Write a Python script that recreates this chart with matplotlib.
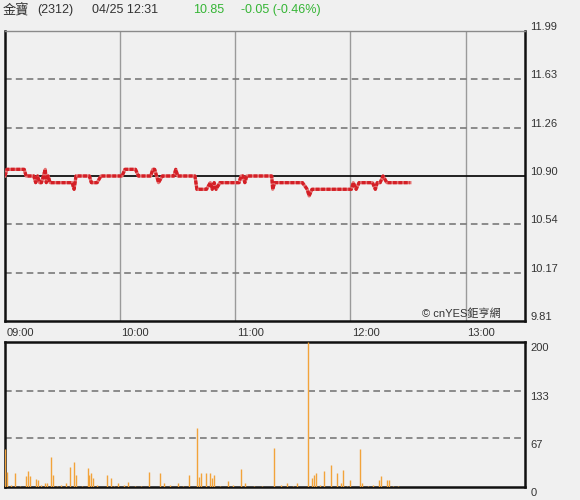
import matplotlib.pyplot as plt

# minutes after 09:00 and price at each vertex of the intraday line
price_min = [0, 1, 10, 11, 15, 16, 17, 18, 19, 20, 21, 21.5, 22.5, 23.5, 35, 36, 37,
             44, 45, 48, 50, 61, 62.5, 68, 69.5, 76, 77, 78, 80, 82, 88, 89, 90,
             99, 100, 105, 107, 108, 109, 110, 112, 122, 123, 124, 125, 126,
             139, 139.5, 140.5, 155, 157.5, 158.5, 160, 180.5, 181.5, 183, 184.5,
             191.5, 193, 194, 195.5, 197, 199, 211]
price_val = [10.90, 10.95, 10.95, 10.90, 10.90, 10.85, 10.90, 10.85, 10.85, 10.90, 10.95,
             10.85, 10.90, 10.85, 10.85, 10.80, 10.90,
             10.90, 10.85, 10.85, 10.90, 10.90, 10.95, 10.95, 10.90, 10.90, 10.95, 10.95,
             10.85, 10.90, 10.90, 10.95, 10.90,
             10.90, 10.80, 10.80, 10.85, 10.80, 10.85, 10.80, 10.85, 10.85, 10.90, 10.90,
             10.85, 10.90,
             10.90, 10.80, 10.85, 10.85, 10.80, 10.75, 10.80, 10.80, 10.85, 10.80, 10.85,
             10.85, 10.80, 10.85, 10.85, 10.90, 10.85, 10.85]

# volume bars (minute, lots)
vol_min = [0, 1, 5, 11, 12, 13, 16, 17, 21, 22, 24, 25, 32, 34, 36, 37, 43, 44, 45, 46,
           53, 55, 59, 64, 75, 81, 83, 90, 96, 100, 101, 102, 105, 107, 108, 109, 116,
           123, 125, 140, 147, 152, 158, 160, 161, 162, 166, 170, 173, 175, 176, 180,
           185, 186, 195, 196, 199, 200, 205,
           3, 8, 19, 27, 29, 40, 48, 57, 62, 68, 71, 86, 93, 112, 119, 130, 134, 144,
           150, 164, 178, 189, 192, 202]
vol_val = [52, 21, 19, 15, 22, 15, 11, 9, 5, 6, 42, 17, 6, 28, 35, 17, 26, 17, 20, 12,
           16, 12, 5, 7, 21, 19, 6, 6, 16, 82, 14, 19, 19, 19, 12, 17, 8,
           25, 5, 54, 5, 6, 200, 13, 16, 19, 22, 31, 19, 6, 24, 10,
           53, 5, 10, 15, 9, 9, 2,
           3, 2, 3, 2, 3, 2, 3, 2, 3, 2, 2, 3, 2, 2, 3, 2, 2, 3,
           2, 3, 2, 2, 3, 2]

ref_price = 10.90
price_ticks = [9.81, 10.17, 10.54, 10.90, 11.26, 11.63, 11.99]
vol_ticks = [0, 67, 133, 200]
hour_ticks = [0, 60, 120, 180, 240]
hour_labels = ['09:00', '10:00', '11:00', '12:00', '13:00']

bg = '#f0f0f0'
txt = '#333333'
fam = ['Liberation Sans', 'Noto Sans CJK TC', 'DejaVu Sans']
plt.rcParams['font.family'] = fam

fig = plt.figure(figsize=(5.8, 5.0), dpi=100, facecolor=bg)
ax = fig.add_axes([5/580, 1-321/500, 520/580, 290/500], facecolor=bg)
axv = fig.add_axes([5/580, 1-487/500, 520/580, 145/500], facecolor=bg)

# price panel
for t in hour_ticks[1:]:
    ax.axvline(t, color='#9a9a9a', lw=1, zorder=1)
for p in price_ticks[1:-1]:
    if p == ref_price:
        continue
    ax.axhline(p, color='#7a7a7a', lw=1.2, ls=(0, (4, 2.5)), zorder=1)
ax.axhline(ref_price, color='#111111', lw=1.3, zorder=2)
ax.plot(price_min, price_val, color='#e47070', lw=2.3, zorder=3)
ax.plot(price_min, price_val, color='#d41f26', lw=2.3, ls=(0, (1.2, 0.5)), zorder=4)
ax.set_xlim(0, 271)
ax.set_ylim(price_ticks[0], price_ticks[-1])
ax.set_xticks([])
ax.set_yticks([])
for side in ['left', 'right', 'bottom']:
    ax.spines[side].set_color('#111111')
    ax.spines[side].set_linewidth(1.8)
ax.spines['top'].set_color('#8a8a8a')
ax.spines['top'].set_linewidth(1.0)
for p in price_ticks:
    ax.annotate(f'{p:.2f}', (1, p), xycoords=('axes fraction', 'data'),
                xytext=(4, 3), textcoords='offset points', ha='left', va='center',
                fontsize=8, color=txt, annotation_clip=False)
for t, lab in zip(hour_ticks, hour_labels):
    ax.annotate(lab, (t, 0), xycoords=('data', 'axes fraction'),
                xytext=(1, -8.5), textcoords='offset points', ha='left', va='center',
                fontsize=8, color=txt, annotation_clip=False)
ax.text(0.802, 0.025, '© cnYES鉅亨網', transform=ax.transAxes, fontsize=8,
        color=txt, ha='left', va='center', family=fam)

# volume panel
for v in vol_ticks[1:-1]:
    axv.axhline(v, color='#7a7a7a', lw=1.2, ls=(0, (4, 2.5)), zorder=1)
axv.vlines(vol_min, 0, vol_val, color='#f2a33a', lw=1.0, zorder=3)
axv.set_xlim(0, 271)
axv.set_ylim(0, 200)
axv.set_xticks([])
axv.set_yticks([])
for side in axv.spines:
    axv.spines[side].set_color('#111111')
    axv.spines[side].set_linewidth(1.8)
for v in vol_ticks:
    axv.annotate(str(v), (1, v), xycoords=('axes fraction', 'data'),
                 xytext=(4, -4.5), textcoords='offset points', ha='left', va='center',
                 fontsize=8, color=txt, annotation_clip=False)

# header
hy = 1 - 10/500
fig.text(3/580, hy, '金寶', fontsize=9.5, color=txt, va='center', family=fam)
fig.text(37/580, hy, '(2312)', fontsize=9, color=txt, va='center')
fig.text(92/580, hy, '04/25 12:31', fontsize=9, color=txt, va='center')
fig.text(193/580, hy, '10.85', fontsize=9, color='#35b535', va='center')
fig.text(241/580, hy, '-0.05 (-0.46%)', fontsize=9, color='#35b535', va='center')

fig.savefig('out.png', dpi=100, facecolor=bg)
